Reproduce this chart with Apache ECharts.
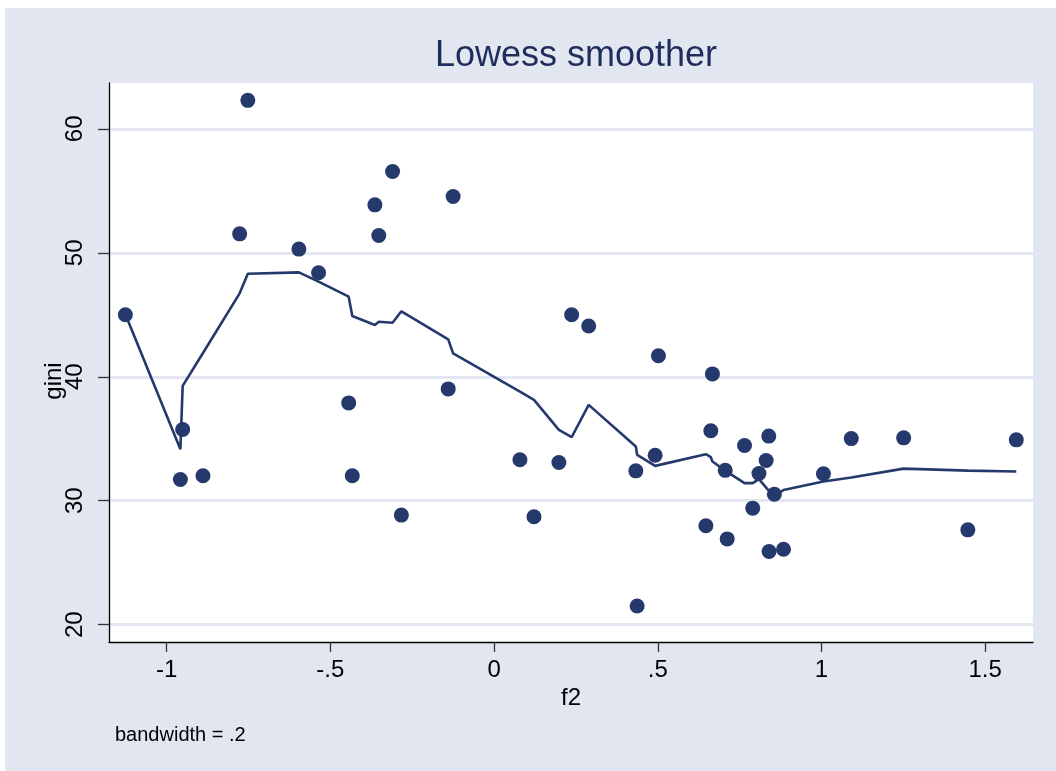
<!DOCTYPE html>
<html>
<head>
<meta charset="utf-8">
<script src="https://cdn.jsdelivr.net/npm/echarts@6/dist/echarts.min.js"></script>
<style>
  html, body { margin: 0; padding: 0; background: #fff; }
  #chart { width: 1056px; height: 771px; }
</style>
</head>
<body>
<div id="chart"></div>
<script>
// observations, sorted by f2
const f2 = [-1.126, -0.958, -0.951, -0.889, -0.777, -0.752, -0.596, -0.536, -0.444, -0.433,
  -0.364, -0.352, -0.310, -0.283, -0.140, -0.125, 0.079, 0.122, 0.198, 0.237,
  0.289, 0.433, 0.437, 0.492, 0.502, 0.647, 0.662, 0.667, 0.706, 0.712,
  0.765, 0.790, 0.809, 0.831, 0.839, 0.840, 0.856, 0.884, 1.006, 1.091,
  1.251, 1.447, 1.595];
const gini = [45.0, 31.71, 35.74, 32.01, 51.53, 62.30, 50.30, 48.39, 37.89, 32.01,
  53.87, 51.40, 56.56, 28.84, 39.02, 54.54, 33.30, 28.70, 33.08, 45.0,
  44.10, 32.41, 21.51, 33.67, 41.70, 27.98, 35.64, 40.23, 32.45, 26.92,
  34.45, 29.40, 32.20, 33.24, 35.21, 25.90, 30.52, 26.08, 32.17, 35.01,
  35.07, 27.65, 34.91];
// lowess fit (bandwidth .2) at each f2
const lowess = [45.04, 34.16, 39.26, 41.92, 46.73, 48.31, 48.42, 47.68, 46.46, 44.90,
  44.17, 44.44, 44.36, 45.28, 43.02, 41.89, 38.80, 38.13, 35.71, 35.12,
  37.73, 34.37, 33.70, 32.81, 32.87, 33.75, 33.51, 33.16, 32.43, 32.33,
  31.42, 31.42, 31.74, 31.06, 30.82, 30.79, 30.35, 30.86, 31.55, 31.87,
  32.59, 32.43, 32.35];

const xTicks = [-1, -0.5, 0, 0.5, 1, 1.5];
const xTickLabels = ['-1', '-.5', '0', '.5', '1', '1.5'];
const yTicks = [20, 30, 40, 50, 60];

const navy = '#26396c';
const font = "'Liberation Sans', Arial, Helvetica, sans-serif";

let myChart = echarts.init(document.getElementById('chart'));

myChart.setOption({
  animation: false,
  backgroundColor: '#ffffff',
  title: {
    text: 'Lowess smoother',
    left: 571,
    top: 33,
    textAlign: 'center',
    textStyle: { fontFamily: font, fontSize: 36, fontWeight: 'normal', color: '#1f2d5c' }
  },
  grid: {
    left: 109,
    top: 83,
    right: 23,
    bottom: 129,
    show: true,
    backgroundColor: '#ffffff',
    borderWidth: 0
  },
  graphic: [
    {
      type: 'rect', z: -10, silent: true,
      shape: { x: 5, y: 8, width: 1051, height: 763 },
      style: { fill: '#e1e6f0' }
    },
    {
      type: 'text', z: 10,
      x: 54, y: 381, rotation: Math.PI / 2,
      style: {
        text: 'gini', fontFamily: font, fontSize: 24, fill: '#000',
        align: 'center', verticalAlign: 'middle'
      }
    },
    {
      type: 'text', z: 10,
      x: 571, y: 698,
      style: {
        text: 'f2', fontFamily: font, fontSize: 24, fill: '#000',
        align: 'center', verticalAlign: 'middle'
      }
    },
    {
      type: 'text', z: 10,
      x: 115, y: 735,
      style: {
        text: 'bandwidth = .2', fontFamily: font, fontSize: 20, fill: '#000',
        align: 'left', verticalAlign: 'middle'
      }
    }
  ],
  xAxis: {
    type: 'value',
    min: -1.176,
    max: 1.646,
    axisLine: { show: true, onZero: false, lineStyle: { color: '#000', width: 1.3 } },
    axisTick: { show: true, length: 10, customValues: xTicks, lineStyle: { color: '#333', width: 1.3 } },
    axisLabel: {
      customValues: xTicks,
      margin: 16,
      fontFamily: font, fontSize: 24, color: '#000',
      formatter: (v) => xTickLabels[xTicks.indexOf(v)]
    },
    splitLine: { show: false }
  },
  yAxis: {
    type: 'value',
    min: 18.6,
    max: 63.7,
    axisLine: { show: true, onZero: false, lineStyle: { color: '#000', width: 1.3 } },
    axisTick: { show: true, length: 11, customValues: yTicks, lineStyle: { color: '#333', width: 1.3 } },
    axisLabel: {
      customValues: yTicks,
      rotate: 90,
      margin: 22,
      fontFamily: font, fontSize: 24, color: '#000'
    },
    splitLine: { show: true, lineStyle: { color: '#e3e7f1', width: 3 } }
  },
  series: [
    {
      type: 'scatter',
      data: f2.map((x, i) => [x, gini[i]]),
      symbol: 'circle',
      symbolSize: 15,
      itemStyle: { color: navy, opacity: 1 },
      z: 3
    },
    {
      type: 'line',
      data: f2.map((x, i) => [x, lowess[i]]),
      showSymbol: false,
      symbol: 'none',
      lineStyle: { color: navy, width: 2.6 },
      z: 4
    }
  ]
});
</script>
</body>
</html>
